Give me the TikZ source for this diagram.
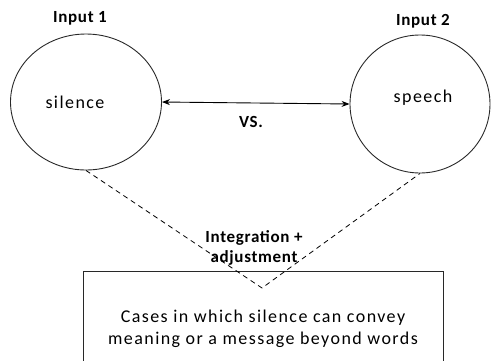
\documentclass[tikz,border=0pt]{standalone}
\usepackage{fontspec}
\setmainfont{Carlito}
\newfontfamily\regfont[LetterSpace=8]{Carlito}
\newfontfamily\labfont[LetterSpace=4]{Carlito}
\usetikzlibrary{arrows.meta,shapes.geometric}
\definecolor{cLine}{RGB}{40,40,40}

\begin{document}
\begin{tikzpicture}[
  x=1pt,y=-1pt,
  >={Stealth[length=8pt,width=6pt]},
  src/.style={draw=cLine,ellipse,line width=0.9pt,inner sep=0pt},
  word/.style={font=\regfont\fontsize{18}{20}\selectfont},
  head/.style={font=\labfont\bfseries\fontsize{17}{20}\selectfont,align=center},
  res/.style={draw=cLine,line width=0.9pt,minimum width=360,minimum height=114,
              align=center,inner sep=0pt,font=\regfont\fontsize{18}{22}\selectfont},
  link/.style={line width=0.8pt,dash pattern=on 5pt off 4pt},
  arr/.style={<->,line width=0.9pt},
]
\useasboundingbox (0,0) rectangle (491,360);

% ------------------------------------------------------------------ the two inputs
\node[src,minimum width=151,minimum height=136] (sil) at (86,102)  {};
\node[src,minimum width=140,minimum height=138] (spe) at (420,104) {};
\node[word] (silT) at (75,102) {silence};
\node[word] (speT) at (423,98) {speech};
\node[head] (in1) at (80,18)  {Input 1};
\node[head] (in2) at (423,21) {Input 2};

% ------------------------------------------------------------------ contrast
\draw[arr] (sil.east) -- (spe.west);
\node[head] (vs) at (251,122) {VS.};

% ------------------------------------------------------------------ result box
\node[res,anchor=north] (out) at (263,271)
     {Cases in which silence can convey\\meaning or a message beyond words};

% dashed lines meet just inside the box
\coordinate (tip) at (262,288);
\draw[link] (sil.south) -- (tip) -- (spe.south);
\node[head] (mix) at (254,248) {Integration +\\adjustment};

\end{tikzpicture}
\end{document}
